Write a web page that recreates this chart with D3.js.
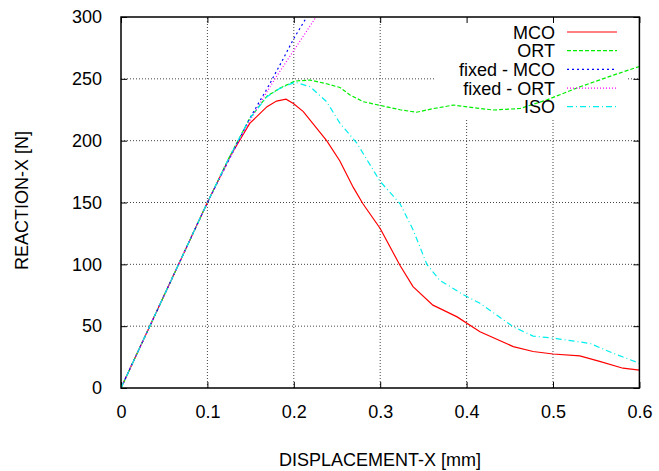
<!DOCTYPE html>
<html>
<head>
<meta charset="utf-8">
<script src="https://cdn.jsdelivr.net/npm/d3@7"></script>
<style>
html,body{margin:0;padding:0;background:#fff;}
text{font-family:"Liberation Sans",Arial,sans-serif;font-size:18px;fill:#000;}
</style>
</head>
<body>
<svg id="chart" width="659" height="471"></svg>
<script>
// ---- data ----
const xTicks = [0, 0.1, 0.2, 0.3, 0.4, 0.5, 0.6];
const xTickLabels = ["0", "0.1", "0.2", "0.3", "0.4", "0.5", "0.6"];
const yTicks = [0, 50, 100, 150, 200, 250, 300];
const yTickLabels = ["0", "50", "100", "150", "200", "250", "300"];
const xTitle = "DISPLACEMENT-X [mm]";
const yTitle = "REACTION-X [N]";
const seriesNames = ["MCO", "ORT", "fixed - MCO", "fixed - ORT", "ISO"];

const mco = [[0,0],[0.05,75],[0.1,150],[0.126,187],[0.149,214],[0.169,227.5],[0.18,232],[0.191,233.5],
  [0.1995,230],[0.211,223.5],[0.238,200],[0.253,184],[0.269,162],[0.28,149],[0.30,129],[0.323,99],
  [0.338,82],[0.361,67],[0.37,64],[0.389,57.5],[0.4155,45.5],[0.454,33.5],[0.477,29.5],[0.50,27.5],
  [0.531,26],[0.554,21.5],[0.581,16],[0.6,14.5]];
const ort = [[0,0],[0.05,75],[0.1,150],[0.126,187.5],[0.149,218],[0.169,236],[0.184,242.5],[0.2014,248.2],
  [0.219,249],[0.238,246],[0.2535,243],[0.265,237],[0.2805,231.5],[0.30,228.5],[0.323,225],[0.342,223],
  [0.362,226],[0.385,228.8],[0.41,226.5],[0.431,224.8],[0.462,226],[0.493,233],[0.531,243.5],[0.57,253],[0.6,260]];
const fixedMco = [[0,0],[0.05,75],[0.1,150],[0.126,186],[0.149,218],[0.169,242],[0.188,266.5],[0.1995,282],[0.215,300]];
const fixedOrt = [[0,0],[0.05,75],[0.1,150],[0.126,186],[0.149,216],[0.169,239.5],[0.18,252],[0.2,273],[0.2257,300]];
const iso = [[0,0],[0.05,75],[0.1,150],[0.126,187.5],[0.149,218],[0.169,235.5],[0.184,242.3],[0.2014,247.3],
  [0.219,243.6],[0.238,231.5],[0.2535,214],[0.273,198],[0.30,167],[0.323,149],[0.338,128],[0.354,100],
  [0.369,87],[0.381,82],[0.396,75.5],[0.4155,68.5],[0.454,49.5],[0.477,42],[0.504,40],[0.543,36],[0.57,28],[0.6,20]];

const seriesData = [mco, ort, fixedMco, fixedOrt, iso];
const seriesColors = ["#ff0000", "#00ee00", "#0000ff", "#ff00ff", "#00eeee"];
const seriesDash = [null, "4,2", "2,3", "1,2", "6,3,1,3"];

// ---- layout ----
const svg = d3.select("#chart");
const pLeft = 121, pRight = 639.4, pTop = 17, pBottom = 388;
const x = d3.scaleLinear().domain([0, 0.6]).range([pLeft, pRight]);
const y = d3.scaleLinear().domain([0, 300]).range([pBottom, pTop]);

// grid
const grid = svg.append("g");
xTicks.slice(1, -1).forEach(t => {
  grid.append("line").attr("x1", x(t)).attr("x2", x(t)).attr("y1", pBottom).attr("y2", pTop)
    .attr("stroke", "#444").attr("stroke-width", 1).attr("stroke-dasharray", "1,2");
});
yTicks.slice(1, -1).forEach(t => {
  grid.append("line").attr("x1", pLeft).attr("x2", pRight).attr("y1", y(t)).attr("y2", y(t))
    .attr("stroke", "#444").attr("stroke-width", 1).attr("stroke-dasharray", "1,2");
});

// legend blank area (hides grid)
svg.append("rect").attr("x", 434).attr("y", pTop + 1).attr("width", 194).attr("height", 100).attr("fill", "#fff");

// axes with inward ticks (mirrored)
const xAxisB = d3.axisBottom(x).tickValues(xTicks).tickFormat((d, i) => xTickLabels[i]).tickSizeInner(-6).tickSizeOuter(0).tickPadding(17);
const xAxisT = d3.axisTop(x).tickValues(xTicks).tickFormat("").tickSizeInner(-6).tickSizeOuter(0);
const yAxisL = d3.axisLeft(y).tickValues(yTicks).tickFormat((d, i) => yTickLabels[i]).tickSizeInner(-6).tickSizeOuter(0).tickPadding(19);
const yAxisR = d3.axisRight(y).tickValues(yTicks).tickFormat("").tickSizeInner(-6).tickSizeOuter(0);

function styleAxis(g) {
  g.select(".domain").remove();
  g.selectAll(".tick line").attr("stroke", "#000");
  g.selectAll(".tick text").attr("font-size", 18).attr("font-family", "Liberation Sans, Arial, sans-serif").attr("fill", "#000");
}
svg.append("g").attr("transform", `translate(0,${pBottom})`).call(xAxisB).call(styleAxis);
svg.append("g").attr("transform", `translate(0,${pTop})`).call(xAxisT).call(styleAxis);
svg.append("g").attr("transform", `translate(${pLeft},0)`).call(yAxisL).call(styleAxis);
svg.append("g").attr("transform", `translate(${pRight},0)`).call(yAxisR).call(styleAxis);

// clip
svg.append("clipPath").attr("id", "clip").append("rect")
  .attr("x", pLeft).attr("y", pTop).attr("width", pRight - pLeft).attr("height", pBottom - pTop);

// curves
const line = d3.line().x(d => x(d[0])).y(d => y(d[1]));
const curves = svg.append("g").attr("clip-path", "url(#clip)");
seriesData.forEach((data, i) => {
  curves.append("path").datum(data).attr("d", line).attr("fill", "none")
    .attr("stroke", seriesColors[i]).attr("stroke-width", 1.2)
    .attr("stroke-dasharray", seriesDash[i]);
});

// frame
svg.append("rect").attr("x", pLeft).attr("y", pTop).attr("width", pRight - pLeft).attr("height", pBottom - pTop)
  .attr("fill", "none").attr("stroke", "#000").attr("stroke-width", 1.5);

// titles
svg.append("text").attr("x", 380).attr("y", 466).attr("text-anchor", "middle").text(xTitle);
svg.append("text").attr("transform", "translate(28,200.5) rotate(-90)").attr("text-anchor", "middle").text(yTitle);

// legend
const legendY = d3.scalePoint().domain(seriesNames).range([32, 106.7]);
const lg = svg.append("g");
seriesNames.forEach((name, i) => {
  const cy = legendY(name);
  lg.append("text").attr("x", 555).attr("y", cy + 6.5).attr("text-anchor", "end").text(name);
  lg.append("line").attr("x1", 567).attr("x2", 617).attr("y1", cy).attr("y2", cy)
    .attr("stroke", seriesColors[i]).attr("stroke-width", 1.2).attr("stroke-dasharray", seriesDash[i]);
});
</script>
</body>
</html>
